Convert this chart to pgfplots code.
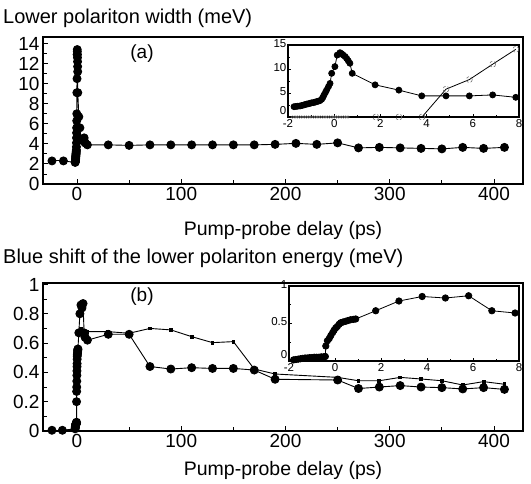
\documentclass[border=0pt]{standalone}
\usepackage{fontspec}
\setmainfont{Liberation Sans}
\usepackage{pgfplots}
\pgfplotsset{compat=1.18}

% filled circles, inset (a) and spike of panel (a)
\pgfplotstableread{
x y
-1.74 2.15
-1.66 2.2
-1.58 2.25
-1.48 2.3
-1.40 2.4
-1.32 2.5
-1.25 2.6
-1.19 2.7
-1.12 2.75
-1.05 2.85
-0.98 2.95
-0.90 3.0
-0.83 3.1
-0.76 3.2
-0.69 3.3
-0.62 3.4
-0.54 3.7
-0.49 4.1
-0.44 4.6
-0.38 5.1
-0.33 5.6
-0.25 6.3
-0.18 7.0
-0.11 9.1
0.03 10.5
0.13 12.9
0.25 13.4
0.32 13.2
0.39 12.9
0.47 12.6
0.54 12.2
0.61 11.7
0.68 11.2
0.78 9.1
1.77 6.7
2.80 5.6
3.79 4.4
4.84 4.4
5.85 4.4
6.86 4.6
7.86 4.1
}\insetA

% open circles, inset (a)
\pgfplotstableread{
x y
1.8 0
2.8 0
3.8 0
4.84 5.8
5.85 7.8
6.86 11.0
7.86 14.1
}\openA

% filled circles, inset (b) and spike of panel (b)
\pgfplotstableread{
x y
-1.80 0.015
-1.70 0.02
-1.60 0.025
-1.50 0.03
-1.40 0.035
-1.30 0.04
-1.20 0.04
-1.10 0.045
-1.00 0.045
-0.90 0.05
-0.80 0.05
-0.70 0.05
-0.60 0.055
-0.50 0.055
-0.42 0.06
-0.40 0.20
-0.33 0.27
-0.25 0.30
-0.18 0.34
-0.10 0.38
-0.04 0.41
0.03 0.44
0.10 0.46
0.18 0.49
0.25 0.51
0.35 0.52
0.47 0.53
0.57 0.54
0.68 0.55
0.80 0.555
0.90 0.56
1.77 0.67
2.78 0.80
3.79 0.86
4.80 0.84
5.81 0.87
6.82 0.67
7.83 0.64
}\insetB

\pgfplotsset{
  mainax/.style={
    scale only axis, width=480pt, xmin=-32.6, xmax=427.8,
    axis line style={line width=1.2pt},
    every tick/.style={black, line width=0.9pt},
    xtick={0,100,...,400}, minor xtick={50,150,250,350},
    xtick pos=bottom, ytick pos=left, tick align=inside,
    major tick length=5pt, minor tick length=4pt,
    ticklabel style={font=\fontsize{19}{21}\selectfont},
    /pgf/number format/assume math mode=true,
  },
  insetax/.style={
    scale only axis, xmin=-2, xmax=8,
    axis background/.style={fill=white},
    axis line style={line width=1.1pt},
    every tick/.style={black, line width=0.6pt},
    xtick={-2,0,...,8}, minor x tick num=1,
    xtick pos=bottom, ytick pos=left, tick align=inside,
    major tick length=3pt, minor tick length=2pt,
    ticklabel style={font=\fontsize{11.5}{13}\selectfont, inner sep=1.5pt},
    xticklabel style={yshift=-0.5pt},
    yticklabel style={yshift=1.5pt},
    extra y ticks={0},
    extra y tick style={yticklabel style={yshift=4.5pt}},
    /pgf/number format/assume math mode=true,
  },
  dots/.style={black, line width=0.9pt, mark=*, mark size=4pt, mark options={solid, fill=black}},
}

\begin{document}
\begin{tikzpicture}
\path[use as bounding box] (0pt,0pt) rectangle (531pt,-483pt);

% ---------- panel (a)
\begin{axis}[mainax, at={(43pt,-184pt)}, anchor=south west, height=147pt,
  ymin=0, ymax=14.65, ytick={0,2,...,14}, minor y tick num=1]
\addplot[dots] table {
x y
-24 2.3
-13 2.3
};
\addplot[dots] table {\insetA};
\addplot[dots] table {
x y
7.86 4.1
10 3.9
30 3.9
50 3.85
70 3.9
90 3.9
110 3.9
130 3.9
150 3.9
170 3.9
190 3.95
210 4.05
230 3.95
250 4.1
270 3.6
290 3.65
310 3.6
330 3.55
350 3.5
370 3.65
390 3.55
410 3.65
};
\addplot[black, line width=0.9pt] coordinates {(-13,2.3) (-1.74,2.15)};
\end{axis}

\begin{axis}[insetax, at={(288pt,-117pt)}, anchor=south west, width=231pt, height=72pt,
  ymin=0, ymax=15, ytick={5,10,15}, minor ytick={2.5,7.5,12.5}]
\addplot[only marks, mark=o, mark size=1.3pt, black!55, line width=0.45pt] coordinates {
(-1.8,0) (-1.7,0) (-1.6,0) (-1.5,0) (-1.4,0) (-1.3,0) (-1.2,0) (-1.1,0) (-1.0,0)
(-0.9,0) (-0.8,0) (-0.7,0) (-0.6,0) (-0.5,0) (-0.4,0) (-0.3,0) (-0.2,0) (-0.1,0)
(0,0) (0.1,0) (0.2,0) (0.3,0) (0.4,0) (0.5,0) (0.6,0)};
\addplot[black, line width=0.8pt, mark=o, mark size=3pt, mark options={black!55, line width=0.6pt, densely dashed}] table {\openA};
\addplot[black, line width=0.8pt, mark=*, mark size=3pt] table {\insetA};
\end{axis}

% ---------- panel (b)
\begin{axis}[mainax, at={(43pt,-431pt)}, anchor=south west, height=148pt,
  ymin=0, ymax=1.01, ytick={0,0.2,0.4,0.6,0.8,1},
  yticklabels={0,0.2,0.4,0.6,0.8,1}, minor y tick num=1]
\addplot[black, line width=0.9pt, mark=square*, mark size=1.4pt] table {
x y
4 0.70
10 0.678
30 0.678
50 0.667
70 0.70
90 0.69
110 0.644
130 0.603
150 0.61
170 0.423
190 0.389
250 0.366
270 0.343
290 0.343
310 0.366
330 0.355
350 0.343
370 0.314
390 0.337
410 0.319
};
\addplot[dots] table {
x y
-24 0.005
-14 0.005
};
\addplot[dots] table {\insetB};
\addplot[dots] table {
x y
7.83 0.64
10 0.62
30 0.66
50 0.66
70 0.44
90 0.423
110 0.432
130 0.427
150 0.427
170 0.416
190 0.353
250 0.348
270 0.29
290 0.30
310 0.31
330 0.30
350 0.296
370 0.287
390 0.296
410 0.284
};
\addplot[black, line width=0.9pt] coordinates {(-14,0.005) (-1.8,0.015)};
\end{axis}

\begin{axis}[insetax, at={(289pt,-361pt)}, anchor=south west, width=230pt, height=75pt,
  ymin=0, ymax=1, ytick={0.5,1}, yticklabels={0.5,1}, minor ytick={0.25,0.75}]
\addplot[black, line width=0.8pt, mark=*, mark size=3.2pt] table {\insetB};
\end{axis}

% ---------- texts
\node[anchor=base west, inner sep=0pt, font=\fontsize{20}{24}\selectfont] at (3pt,-23pt) {Lower polariton width (meV)};
\node[anchor=base west, inner sep=0pt, font=\fontsize{20}{24}\selectfont] at (3pt,-263pt) {Blue shift of the lower polariton energy (meV)};
\node[anchor=base, inner sep=0pt, font=\fontsize{19.5}{23}\selectfont] at (283pt,-235pt) {Pump-probe delay (ps)};
\node[anchor=base, inner sep=0pt, font=\fontsize{19.5}{23}\selectfont] at (283pt,-475pt) {Pump-probe delay (ps)};
\node[inner sep=0pt, font=\fontsize{19}{22}\selectfont] at (142pt,-54pt) {(a)};
\node[inner sep=0pt, font=\fontsize{19}{22}\selectfont] at (142pt,-297pt) {(b)};
\end{tikzpicture}
\end{document}
